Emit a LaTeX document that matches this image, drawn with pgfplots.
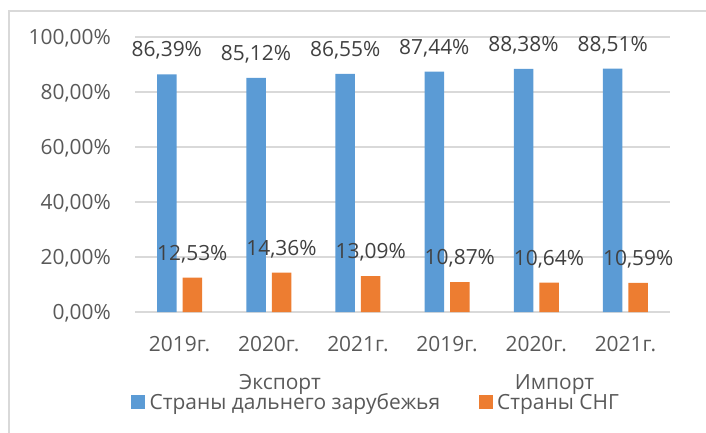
\documentclass[border=0pt]{standalone}
\usepackage{pgfplots}
\pgfplotsset{compat=1.18}
\usepackage{fontspec}
\setmainfont{Open Sans}
\definecolor{cblue}{HTML}{5B9BD5}
\definecolor{corange}{HTML}{ED7D31}
\definecolor{cgrid}{HTML}{D9D9D9}
\definecolor{ctext}{HTML}{595959}
\definecolor{clabel}{HTML}{404040}
\newcommand{\cf}{\fontsize{21}{25}\selectfont}
\begin{document}
\begin{tikzpicture}[x=1bp,y=1bp]
\useasboundingbox (0,0) rectangle (706,-433);
\draw[cgrid, line width=1.5bp] (9,-440) -- (9,-11) -- (720,-11);
\begin{axis}[
  at={(135bp,-312bp)}, anchor=south west,
  scale only axis, width=535bp, height=275bp,
  ybar=6bp, bar width=19.5bp,
  xmin=-0.5, xmax=5.5, ymin=0, ymax=100,
  axis line style={draw=none},
  major tick length=0,
  ytick={0,20,40,60,80,100},
  yticklabels={{0,00\%},{20,00\%},{40,00\%},{60,00\%},{80,00\%},{100,00\%}},
  xtick={0,1,2,3,4,5},
  xticklabels={2019г.,2020г.,2021г.,2019г.,2020г.,2021г.},
  ymajorgrids, grid style={cgrid, line width=1.2bp},
  yticklabel style={font=\cf, text=ctext, inner sep=0pt, anchor=base east, xshift=-24bp, yshift=-7.5bp},
  xticklabel style={font=\cf, text=ctext, inner sep=0pt, anchor=base, yshift=-39.5bp},
  clip=false,
  nodes near coords={\pgfmathprintnumber[fixed,fixed zerofill,precision=2,use comma,assume math mode=true]{\pgfplotspointmeta}\%},
  nodes near coords style={font=\cf, text=clabel, inner sep=0pt, anchor=base, yshift=17.5bp},
  legend columns=2,
  legend image code/.code={\fill[#1,draw=none] (0bp,-7bp) rectangle (14bp,7bp);},
  legend style={draw=none, fill=none, inner sep=0pt, at={(-0.0075,-0.329)}, anchor=west,
    font=\cf, text=ctext, nodes={inner xsep=4.5bp, inner ysep=0pt},
    /tikz/every even column/.append style={column sep=34bp}},
]
\addplot[fill=cblue, draw=none] coordinates {(0,86.39) (1,85.12) (2,86.55) (3,87.44) (4,88.38) (5,88.51)};
\addplot[fill=corange, draw=none] coordinates {(0,12.53) (1,14.36) (2,13.09) (3,10.87) (4,10.64) (5,10.59)};
\legend{Страны дальнего зарубежья, Страны СНГ}
\end{axis}
\node[font=\cf, text=ctext, anchor=base, inner sep=0pt] at (280,-389) {Экспорт};
\node[font=\cf, text=ctext, anchor=base, inner sep=0pt] at (554.5,-389) {Импорт};
\end{tikzpicture}
\end{document}
